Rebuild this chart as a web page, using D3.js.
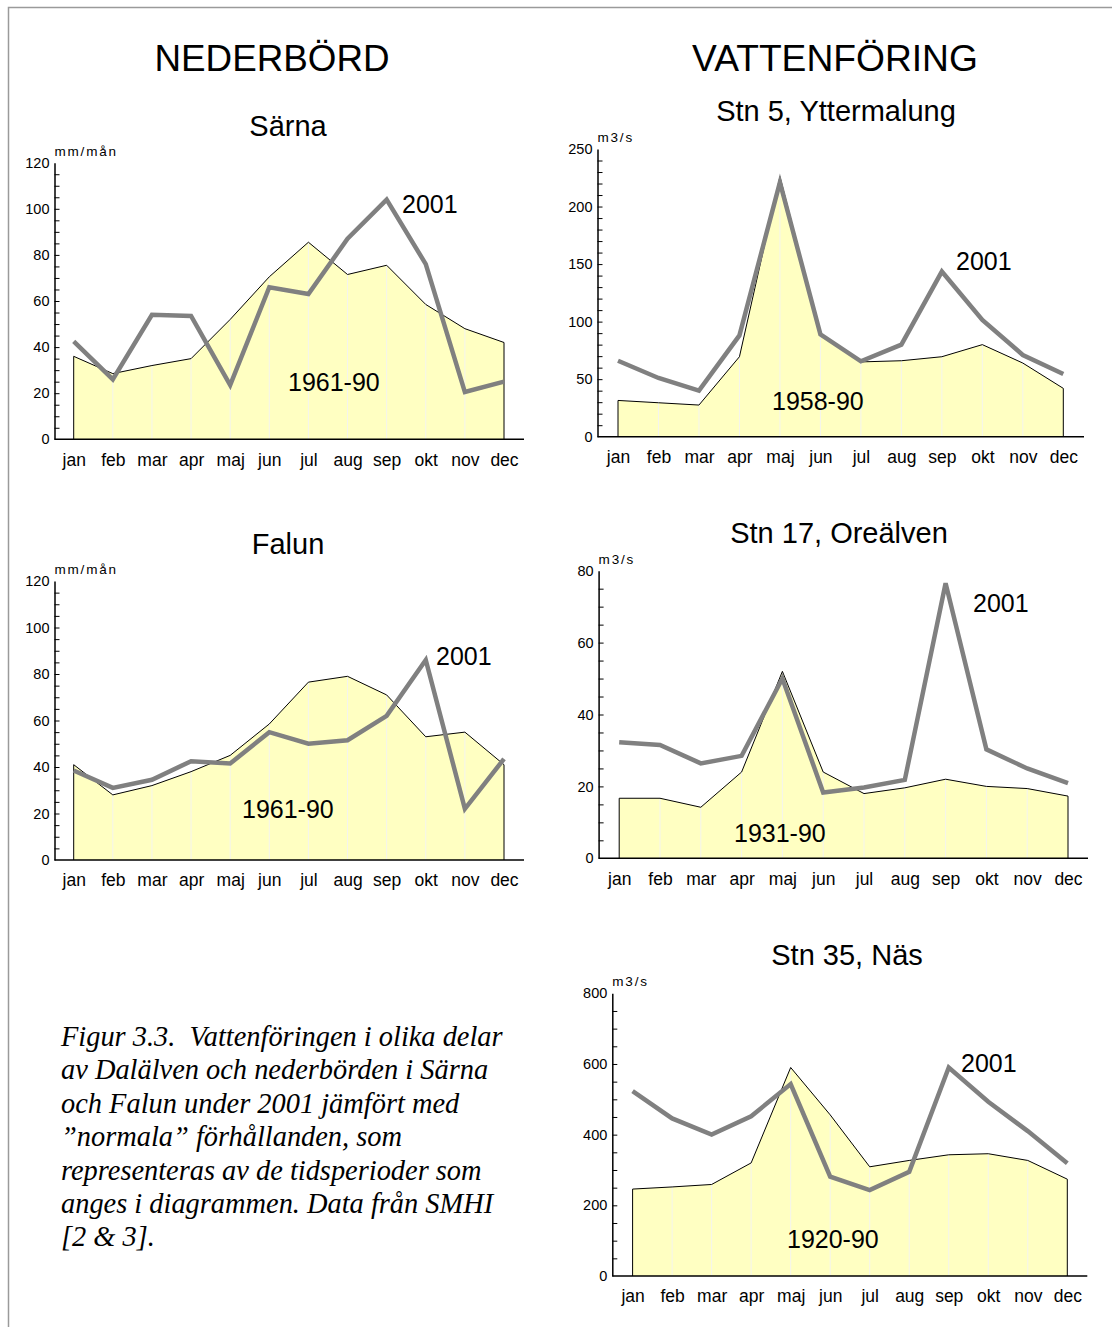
<!DOCTYPE html>
<html>
<head>
<meta charset="utf-8">
<script src="https://cdn.jsdelivr.net/npm/d3@7"></script>
<style>
  html, body { margin: 0; padding: 0; background: #fff; }
  svg { display: block; }
  text { font-family: "Liberation Sans", Arial, sans-serif; fill: #000; }
</style>
</head>
<body>
<script>
// Month categories shared by all five diagrams
const months = ["jan","feb","mar","apr","maj","jun","jul","aug","sep","okt","nov","dec"];

// Nederbörd (mm/mån)
const sarnaNormal = [36, 28.5, 32, 35, 52, 70.5, 85.5, 71.5, 75.5, 58.5, 48, 42];
const sarna2001   = [42.5, 26, 54, 53.5, 23.5, 66, 63, 87, 104, 76, 20.5, 25];
const falunNormal = [41, 28, 32, 38, 45, 58.5, 76.5, 79, 71, 53, 55, 41];
const falun2001   = [38.5, 31, 34.5, 42.5, 41.5, 55, 50, 51.5, 62, 86, 22, 43.5];

// Vattenföring (m3/s)
const ytterNormal = [31.5, 29.5, 27.5, 69.5, 226, 89, 65, 66, 69.5, 80, 64, 42];
const ytter2001   = [66, 51, 40, 88, 221, 89, 65.5, 80, 143.5, 101.5, 71, 54.5];
const oreNormal   = [16.7, 16.7, 14.2, 24, 52, 24, 18, 19.6, 22, 20, 19.4, 17.3];
const ore2001     = [32.3, 31.5, 26.4, 28.5, 50, 18.3, 19.7, 21.8, 76.5, 30.3, 25, 20.9];
const nasNormal   = [246, 252, 259, 320, 590, 456, 309, 327, 343, 346, 327, 274];
const nas2001     = [523, 446, 400, 452, 543, 281, 243, 295, 590, 493, 410, 319];

// Reference periods and axis ranges (max, major step, minor step)
const periods   = ["1961-90", "1958-90", "1961-90", "1931-90", "1920-90"];
const yMax      = [120, 250, 120, 80, 800];
const yMajor    = [20, 50, 20, 20, 200];
const yMinor    = [5, 10, 5, 5, 50];
const titles    = ["Särna", "Stn 5, Yttermalung", "Falun", "Stn 17, Oreälven", "Stn 35, Näs"];
const units     = ["mm/mån", "m3/s", "mm/mån", "m3/s", "m3/s"];
const normals   = [sarnaNormal, ytterNormal, falunNormal, oreNormal, nasNormal];
const actuals   = [sarna2001, ytter2001, falun2001, ore2001, nas2001];
const yearLabel = "2001";

// Panel placement on the page
const layout = [
  { axisX: 54.5,  x0: 73.7,  x1: 504,    xEnd: 524,    y0: 439.3, y1: 162.7, tx: 288, ty: 136, yl: [402, 213], nl: [288, 391] },
  { axisX: 597.5, x0: 618,   x1: 1063.3, xEnd: 1084,   y0: 436.7, y1: 149,   tx: 836, ty: 121, yl: [956, 270], nl: [772, 410] },
  { axisX: 54.5,  x0: 73.7,  x1: 504,    xEnd: 524,    y0: 860,   y1: 581,   tx: 288, ty: 554, yl: [436, 665], nl: [242, 818] },
  { axisX: 598.6, x0: 619.2, x1: 1068,   xEnd: 1088,   y0: 858.3, y1: 570.7, tx: 839, ty: 543, yl: [973, 612], nl: [734, 842] },
  { axisX: 612.3, x0: 632.6, x1: 1067.3, xEnd: 1087.3, y0: 1276,  y1: 993.3, tx: 847, ty: 965, yl: [961, 1072], nl: [787, 1248] }
];

const W = 1112, H = 1327;
const svg = d3.select("body").append("svg").attr("width", W).attr("height", H);

// Page frame
svg.append("path")
  .attr("d", `M8.5,${H} V7.5 H${W}`)
  .attr("fill", "none").attr("stroke", "#9a9a9a").attr("stroke-width", 1.5);

// Column headings
svg.append("text").attr("x", 272).attr("y", 71).attr("text-anchor", "middle")
  .style("font-size", "36.8px").text("NEDERBÖRD");
svg.append("text").attr("x", 835).attr("y", 71).attr("text-anchor", "middle")
  .style("font-size", "37.2px").text("VATTENFÖRING");

layout.forEach((L, i) => {
  const g = svg.append("g");
  const x = d3.scalePoint().domain(months).range([L.x0, L.x1]);
  const y = d3.scaleLinear().domain([0, yMax[i]]).range([L.y0, L.y1]);
  const norm = months.map((m, k) => ({ m, v: normals[i][k] }));
  const act  = months.map((m, k) => ({ m, v: actuals[i][k] }));

  // Normal period as filled area
  const area = d3.area().x(d => x(d.m)).y0(y(0)).y1(d => y(d.v));
  g.append("path").datum(norm).attr("d", area).attr("fill", "#ffffc2");

  // Faint month dividers inside the fill
  g.selectAll("line.div").data(norm.slice(1, -1)).join("line")
    .attr("x1", d => x(d.m)).attr("x2", d => x(d.m))
    .attr("y1", y(0)).attr("y2", d => y(d.v))
    .attr("stroke", "#f4f4ee").attr("stroke-width", 1);

  // Outline of the normal area (top edge and both ends)
  const outline = [{ m: months[0], v: 0 }, ...norm, { m: months[11], v: 0 }];
  g.append("path").datum(outline)
    .attr("d", d3.line().x(d => x(d.m)).y(d => y(d.v)))
    .attr("fill", "none").attr("stroke", "#000").attr("stroke-width", 1);

  // 2001 series
  g.append("path").datum(act)
    .attr("d", d3.line().x(d => x(d.m)).y(d => y(d.v)))
    .attr("fill", "none").attr("stroke", "#808080").attr("stroke-width", 4.5)
    .attr("stroke-linejoin", "miter");

  // Y axis: labels, line and inward ticks
  const major = d3.range(0, yMax[i] + 1e-9, yMajor[i]);
  const minor = d3.range(yMinor[i], yMax[i] - 1e-9, yMinor[i]);
  const ya = g.append("g").attr("transform", `translate(${L.axisX},0)`)
    .call(d3.axisLeft(y).tickValues(major).tickSize(0).tickPadding(5).tickFormat(d3.format("d")));
  ya.select(".domain").attr("stroke", "#000").attr("stroke-width", 1.5);
  ya.selectAll("text").style("font-size", "14.5px").style("font-family", "Liberation Sans, Arial, sans-serif");
  const yt = g.append("g").attr("transform", `translate(${L.axisX},0)`)
    .call(d3.axisRight(y).tickValues(minor).tickSize(5).tickFormat(""));
  yt.select(".domain").remove();
  yt.selectAll("line").attr("stroke", "#000");

  // X axis line and month labels
  g.append("line").attr("x1", L.axisX).attr("x2", L.xEnd)
    .attr("y1", y(0)).attr("y2", y(0)).attr("stroke", "#000").attr("stroke-width", 1.5);
  const xa = g.append("g").attr("transform", `translate(0,${y(0)})`)
    .call(d3.axisBottom(x).tickSize(0).tickPadding(14));
  xa.select(".domain").remove();
  xa.selectAll("text").style("font-size", "17.5px").style("font-family", "Liberation Sans, Arial, sans-serif");

  // Unit, title and series labels
  g.append("text").attr("x", L.axisX).attr("y", L.y1 - 7)
    .style("font-size", "13.5px").style("letter-spacing", "1.8px").text(units[i]);
  g.append("text").attr("x", L.tx).attr("y", L.ty).attr("text-anchor", "middle")
    .style("font-size", "29px").text(titles[i]);
  g.append("text").attr("x", L.yl[0]).attr("y", L.yl[1])
    .style("font-size", "25px").text(yearLabel);
  g.append("text").attr("x", L.nl[0]).attr("y", L.nl[1])
    .style("font-size", "25px").text(periods[i]);
});

// Figure caption
const caption = [
  "Figur 3.3.  Vattenföringen i olika delar",
  "av Dalälven och nederbörden i Särna",
  "och Falun under 2001 jämfört med",
  "”normala” förhållanden, som",
  "representeras av de tidsperioder som",
  "anges i diagrammen. Data från SMHI",
  "[2 & 3]."
];
svg.append("g").selectAll("text").data(caption).join("text")
  .attr("x", 61).attr("y", (d, k) => 1046 + k * 33.4)
  .style("font-family", "'Liberation Serif', 'Times New Roman', serif")
  .style("font-style", "italic").style("font-size", "28.4px")
  .style("white-space", "pre").attr("xml:space", "preserve")
  .text(d => d);
</script>
</body>
</html>
